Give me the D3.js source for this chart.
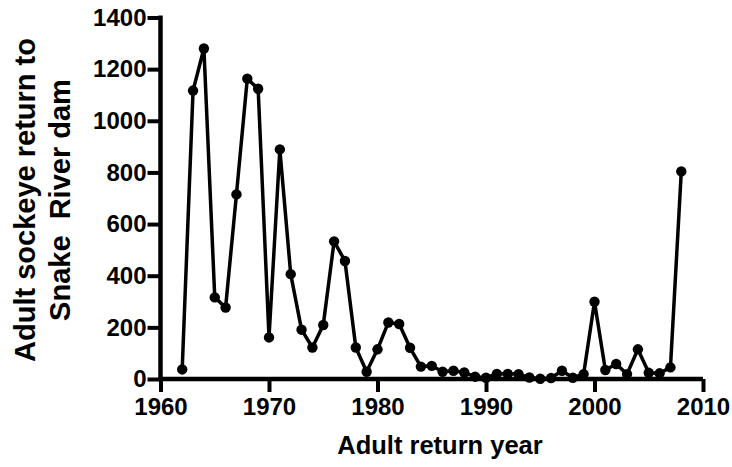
<!DOCTYPE html>
<head>
  <meta charset="utf-8">
  <script src="https://d3js.org/d3.v7.min.js"></script>
  <style>
    body { margin: 0; background: #fff; }
    text { font-family: "Liberation Sans", Arial, sans-serif; font-weight: bold; fill: #000; }
    .line { fill: none; stroke: #000; stroke-width: 3.5px; stroke-linejoin: round; }
  </style>
</head>
<body>
  <script>
    var years = d3.range(1962, 2009);
    var returns = [37, 1117, 1280, 316, 277, 715, 1163, 1124, 161, 889,
                   406, 191, 122, 209, 533, 457, 122, 28, 115, 219,
                   213, 121, 48, 51, 28, 32, 25, 9, 5, 20,
                   20, 19, 6, 1, 4, 32, 5, 19, 299, 35,
                   58, 19, 115, 24, 22, 45, 804];
    var xTicks = [1960, 1970, 1980, 1990, 2000, 2010];
    var yTicks = [0, 200, 400, 600, 800, 1000, 1200, 1400];

    var data = years.map(function(y, i) { return {year: y, value: returns[i]}; });

    var marginLeft = 160.5, marginTop = 17.5, width = 542.5, height = 361.5;

    var svg = d3.select("body").append("svg")
      .attr("width", 732)
      .attr("height", 467);

    var x = d3.scaleLinear().domain([1960, 2010]).range([0, width]);
    var y = d3.scaleLinear().domain([0, 1400]).range([height, 0]);

    var g = svg.append("g")
      .attr("transform", "translate(" + marginLeft + "," + marginTop + ")");

    var xAxis = g.append("g")
      .attr("transform", "translate(0," + height + ")")
      .call(d3.axisBottom(x).tickValues(xTicks).tickFormat(d3.format("d")).tickSize(13).tickPadding(6));

    var yAxis = g.append("g")
      .call(d3.axisLeft(y).tickValues(yTicks).tickFormat(d3.format("d")).tickSize(13).tickPadding(1));

    [xAxis, yAxis].forEach(function(a) {
      a.attr("font-size", 24).attr("font-family", "'Liberation Sans', Arial, sans-serif").attr("font-weight", "bold");
      a.select(".domain").attr("stroke", "#000").attr("stroke-width", 4.5);
      a.selectAll(".tick line").attr("stroke", "#000").attr("stroke-width", 4);
      a.selectAll(".tick text").attr("fill", "#000");
    });
    xAxis.select(".domain").attr("d", "M-2,0H" + width);
    yAxis.select(".domain").attr("d", "M0," + (height + 2) + "V-2");

    var line = d3.line()
      .x(function(d) { return x(d.year); })
      .y(function(d) { return y(d.value); });

    g.append("path").datum(data)
      .attr("class", "line")
      .attr("d", line);

    g.selectAll("circle").data(data).enter()
      .append("circle")
      .attr("cx", function(d) { return x(d.year); })
      .attr("cy", function(d) { return y(d.value); })
      .attr("r", 5.2)
      .style("fill", "#000");

    svg.append("text")
      .attr("x", 440).attr("y", 454)
      .attr("text-anchor", "middle")
      .style("font-size", "25.5px")
      .text("Adult return year");

    var yt = svg.append("text")
      .attr("transform", "translate(35,200) rotate(-90)")
      .attr("text-anchor", "middle")
      .style("font-size", "29px");
    yt.append("tspan").attr("x", 0).attr("dy", 0).text("Adult sockeye return to");
    yt.append("tspan").attr("x", 0).attr("dy", 35).style("white-space", "pre").text("Snake  River dam");
  </script>
</body>
